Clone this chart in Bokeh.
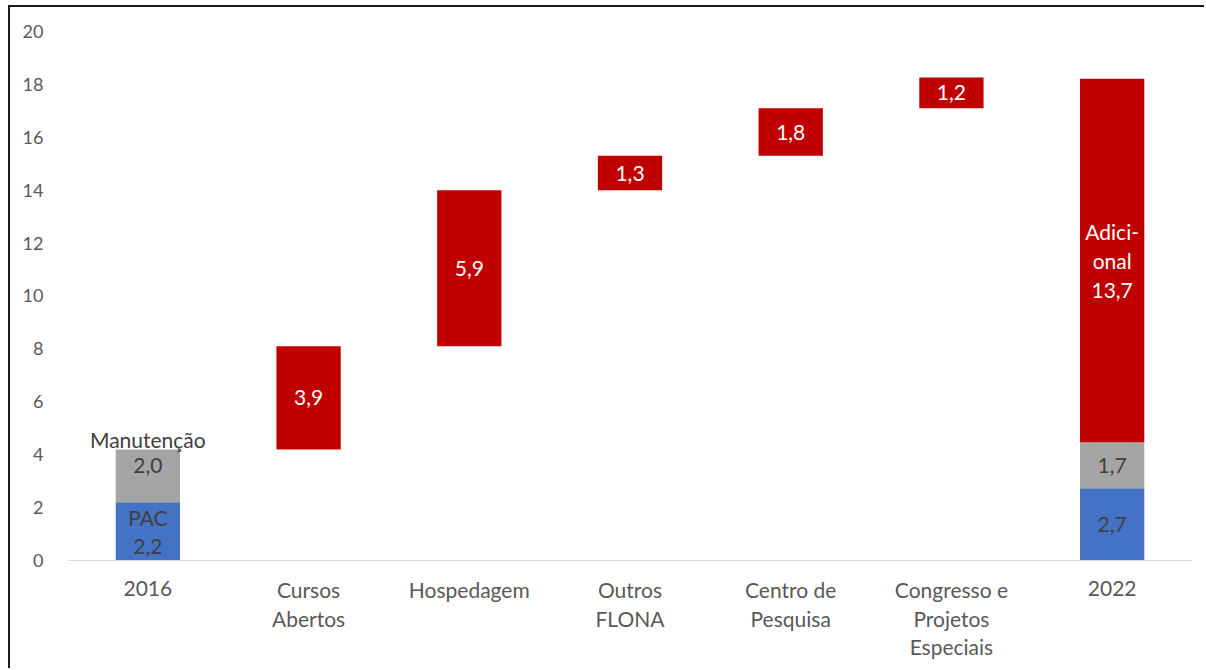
from bokeh.plotting import figure
from bokeh.models import ColumnDataSource, Range1d, FixedTicker, Span
from bokeh.core.properties import value
from bokeh.embed import file_html
from bokeh.resources import INLINE

# ---- data ----
categories = ["2016", "Cursos Abertos", "Hospedagem", "Outros FLONA",
              "Centro de Pesquisa", "Congresso e Projetos Especiais", "2022"]
axis_labels = ["2016", "Cursos\nAbertos", "Hospedagem", "Outros\nFLONA",
               "Centro de\nPesquisa", "Congresso e\nProjetos\nEspeciais", "2022"]
pac_2016 = 2.2
manutencao_2016 = 2.0
increments = [3.9, 5.9, 1.3, 1.8, 1.16]        # Cursos .. Congresso
pac_2022 = 2.73
manutencao_2022 = 1.74
adicional_2022 = 13.74
y_ticks = [0, 2, 4, 6, 8, 10, 12, 14, 16, 18, 20]

def fmt(v):
    return f"{v:.1f}".replace(".", ",")

FONT = "Lato"
FS = "21px"
BLUE = "#4472C4"
GRAY = "#A5A5A5"
RED = "#C00000"
DARK = "#404040"
AXIS_TXT = "#595959"

# the frame extends below zero so that the multi-line category labels
# can be drawn as text glyphs under the baseline
p = figure(x_range=categories, y_range=Range1d(-4.16, 20),
           width=1196, height=663, output_backend="svg", toolbar_location=None,
           min_border_left=57, min_border_right=14, min_border_top=24,
           min_border_bottom=0)
p.styles = {"border-top": "2px solid #1a1a1a", "border-left": "2px solid #1a1a1a",
            "margin-left": "8px", "margin-top": "5px"}
p.outline_line_color = None
p.xgrid.visible = False
p.ygrid.visible = False
p.xaxis.visible = False
p.x_range.range_padding = 0

# baseline (category axis line)
p.add_layout(Span(location=0, dimension="width", line_color="#D9D9D9", line_width=1))

W = 0.4
# blue (PAC)
blue = ColumnDataSource(dict(x=[categories[0], categories[-1]],
                             bottom=[0, 0], top=[pac_2016, pac_2022]))
p.vbar(x="x", bottom="bottom", top="top", width=W, source=blue,
       fill_color=BLUE, line_color=None)
# gray (Manutenção)
gtop = [pac_2016 + manutencao_2016, pac_2022 + manutencao_2022]
gray = ColumnDataSource(dict(x=[categories[0], categories[-1]],
                             bottom=[pac_2016, pac_2022], top=gtop))
p.vbar(x="x", bottom="bottom", top="top", width=W, source=gray,
       fill_color=GRAY, line_color=None)
# red (increments + adicional)
rx, rb, rt, rl = [], [], [], []
level = pac_2016 + manutencao_2016
for c, v in zip(categories[1:6], increments):
    rx.append(c); rb.append(level); rt.append(level + v); rl.append(fmt(v))
    level += v
rx.append(categories[-1]); rb.append(gtop[1]); rt.append(gtop[1] + adicional_2022)
rl.append("Adici-\nonal\n" + fmt(adicional_2022))
red = ColumnDataSource(dict(x=rx, bottom=rb, top=rt, label=rl,
                            mid=[(a + b) / 2 for a, b in zip(rb, rt)]))
p.vbar(x="x", bottom="bottom", top="top", width=W, source=red,
       fill_color=RED, line_color=None)
p.text(x="x", y="mid", text="label", source=red, text_color="white",
       text_font=value(FONT), text_font_size=FS, text_align="center",
       text_baseline="middle", text_line_height=1.17)

# dark labels on blue/gray
dl = ColumnDataSource(dict(
    x=[categories[0], categories[-1], categories[-1]],
    y=[pac_2016 / 2, pac_2022 / 2, pac_2022 + manutencao_2022 / 2],
    label=["PAC\n" + fmt(pac_2016), fmt(pac_2022), fmt(manutencao_2022)]))
p.text(x="x", y="y", text="label", source=dl, text_color=DARK,
       text_font=value(FONT), text_font_size=FS, text_align="center",
       text_baseline="middle", text_line_height=1.12)
ml = ColumnDataSource(dict(x=[categories[0]], y=[gtop[0]],
                           label=[fmt(manutencao_2016)]))
p.text(x="x", y="y", text="label", source=ml, text_color=DARK, y_offset=16,
       text_font=value(FONT), text_font_size=FS, text_align="center",
       text_baseline="middle")
mt = ColumnDataSource(dict(x=[categories[0]], y=[gtop[0]], label=["Manutenção"]))
p.text(x="x", y="y", text="label", source=mt, text_color=DARK, y_offset=-10,
       text_font=value(FONT), text_font_size=FS, text_align="center",
       text_baseline="alphabetic")

# multi-line category labels below the baseline
# (single-line labels without descenders are laid out a little higher by the
#  renderer, so they get a slightly larger offset)
def _yoff(lab):
    if "\n" not in lab and not any(ch in lab for ch in "gjpqy"):
        return 21
    return 17

cl = ColumnDataSource(dict(x=categories, y=[0] * len(categories), label=axis_labels,
                           yoff=[_yoff(l) for l in axis_labels]))
p.text(x="x", y="y", text="label", source=cl, text_color=AXIS_TXT, y_offset="yoff",
       text_font=value(FONT), text_font_size=FS, text_align="center",
       text_baseline="top", text_line_height=1.14)

# y axis
p.yaxis.ticker = FixedTicker(ticks=y_ticks)
p.yaxis.axis_line_color = None
p.yaxis.major_tick_line_color = None
p.yaxis.minor_tick_line_color = None
p.yaxis.major_label_standoff = 18
p.yaxis.major_label_text_font = FONT
p.yaxis.major_label_text_font_size = "18px"
p.yaxis.major_label_text_color = AXIS_TXT

open("out.html", "w").write(file_html(p, INLINE))
